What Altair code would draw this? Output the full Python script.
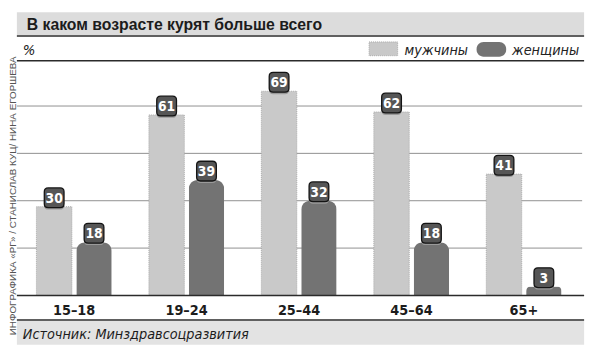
import altair as alt
import pandas as pd

# ---- data ----
categories = ["15–18", "19–24", "25–44", "45–64", "65+"]
series = ["мужчины", "женщины"]
men = [30, 61, 69, 62, 41]
women = [18, 39, 32, 18, 3]
grid_values = [16, 32, 48, 64]

title_text = "В каком возрасте курят больше всего"
unit_text = "%"
source_text = "Источник: Минздравсоцразвития"
credit_text = "ИНФОГРАФИКА «РГ» / СТАНИСЛАВ КУЦ/ НИНА ЕГОРШЕВА"

df = pd.DataFrame({
    "age": categories * 2,
    "sex": [series[0]] * len(categories) + [series[1]] * len(categories),
    "value": men + women,
})
one = pd.DataFrame({"k": [0]})
grid_df = pd.DataFrame({"g": grid_values})

NARROW = "Liberation Sans Narrow, DejaVu Sans Condensed, Liberation Sans, sans-serif"
SANS = "Liberation Sans, Arial, sans-serif"
MEN_C = "#c9c9c9"
WOMEN_C = "#737373"
DARK = "#2b2b2b"

W, H = 570, 238
LEFT, RIGHT = -1, 574

yscale = alt.Scale(domain=[0, 79.33], nice=False, zero=True)
x_enc = alt.X("age:N", sort=categories,
              scale=alt.Scale(paddingInner=0.33, paddingOuter=0.165), axis=None)
xo_enc = alt.XOffset("sex:N", sort=series,
                     scale=alt.Scale(domain=series, paddingInner=0.11, paddingOuter=0))
y_enc = alt.Y("value:Q", scale=yscale, axis=None)

# ---- decorations ----
title_band = alt.Chart(one).mark_rect(color="#dcdcdc").encode(
    x=alt.value(LEFT), x2=alt.value(RIGHT), y=alt.value(-49), y2=alt.value(-26))
title_line = alt.Chart(one).mark_rule(color=DARK, strokeWidth=1.5).encode(
    x=alt.value(LEFT), x2=alt.value(RIGHT), y=alt.value(-25))
head_line = alt.Chart(one).mark_rule(color=DARK, strokeWidth=1.5).encode(
    x=alt.value(LEFT), x2=alt.value(RIGHT), y=alt.value(0))
title = alt.Chart(one).mark_text(
    text=title_text, font=SANS, fontSize=16, fontWeight="bold", color="#1c1c1c",
    align="left", baseline="alphabetic").encode(x=alt.value(9), y=alt.value(-31))
unit = alt.Chart(one).mark_text(
    text=unit_text, font=NARROW, fontSize=15, fontStyle="italic", color="#222",
    align="left", baseline="alphabetic").encode(x=alt.value(5), y=alt.value(-6))

leg_men = alt.Chart(one).mark_rect(color=MEN_C, stroke="#a0a0a0", strokeDash=[1, 1],
                                   strokeWidth=0.8).encode(
    x=alt.value(356), x2=alt.value(385), y=alt.value(-19), y2=alt.value(-5))
leg_women = alt.Chart(one).mark_rect(color=WOMEN_C, cornerRadius=7).encode(
    x=alt.value(465), x2=alt.value(495), y=alt.value(-19), y2=alt.value(-4))
leg_men_t = alt.Chart(one).mark_text(
    text=series[0], font=NARROW, fontSize=14.5, fontStyle="italic", color="#222",
    align="left", baseline="alphabetic").encode(x=alt.value(392), y=alt.value(-6))
leg_women_t = alt.Chart(one).mark_text(
    text=series[1], font=NARROW, fontSize=14.5, fontStyle="italic", color="#222",
    align="left", baseline="alphabetic").encode(x=alt.value(501), y=alt.value(-6))

grid = alt.Chart(grid_df).mark_rule(color="#8f8f8f", strokeWidth=1).encode(
    y=alt.Y("g:Q", scale=yscale, axis=None), x=alt.value(LEFT), x2=alt.value(RIGHT - 2))

base_line = alt.Chart(one).mark_rule(color=DARK, strokeWidth=1.5).encode(
    x=alt.value(LEFT), x2=alt.value(RIGHT), y=alt.value(H))
cat_labels = alt.Chart(pd.DataFrame({"age": categories})).mark_text(
    font=NARROW, fontSize=14.5, fontWeight="bold", color="#1c1c1c",
    baseline="alphabetic").encode(x=x_enc, y=alt.value(258), text="age:N")
src_line = alt.Chart(one).mark_rule(color=DARK, strokeWidth=1.5).encode(
    x=alt.value(LEFT), x2=alt.value(RIGHT), y=alt.value(263))
src_band = alt.Chart(one).mark_rect(color="#e3e3e3").encode(
    x=alt.value(LEFT), x2=alt.value(RIGHT), y=alt.value(264), y2=alt.value(288))
src = alt.Chart(one).mark_text(
    text=source_text, font=NARROW, fontSize=14.5, fontStyle="italic", color="#1c1c1c",
    align="left", baseline="alphabetic").encode(x=alt.value(5), y=alt.value(282))
credit = alt.Chart(one).mark_text(
    text=credit_text, font=SANS, fontSize=10, color="#555", angle=270,
    align="center", baseline="middle").encode(x=alt.value(-4.5), y=alt.value(137))

# ---- bars ----
bars_men = alt.Chart(df).transform_filter(alt.datum.sex == series[0]).mark_bar(
    color=MEN_C, stroke="#a0a0a0", strokeDash=[1, 1], strokeWidth=0.8).encode(
    x=x_enc, xOffset=xo_enc, y=y_enc)
bars_women = alt.Chart(df).transform_filter(alt.datum.sex == series[1]).mark_bar(
    color=WOMEN_C, cornerRadiusTopLeft=9, cornerRadiusTopRight=9).encode(
    x=x_enc, xOffset=xo_enc, y=y_enc)

badge_path = ("M -0.6,-1 L 0.6,-1 Q 1,-1 1,-0.6 L 1,0.6 Q 1,1 0.6,1 "
              "L -0.6,1 Q -1,1 -1,0.6 L -1,-0.6 Q -1,-1 -0.6,-1 Z")
badge_shadow = alt.Chart(df).mark_point(
    shape=badge_path, size=400, filled=True, fill="#9a9a9a", opacity=1,
    xOffset=2, yOffset=-7).encode(x=x_enc, xOffset=xo_enc, y=y_enc)
badge = alt.Chart(df).mark_point(
    shape=badge_path, size=400, filled=True, fill="#565656", stroke="#141414",
    strokeWidth=1.3, opacity=1, yOffset=-9).encode(x=x_enc, xOffset=xo_enc, y=y_enc)
badge_text = alt.Chart(df).mark_text(
    font=NARROW, fontSize=14, fontWeight="bold", color="white",
    baseline="middle", yOffset=-8).encode(x=x_enc, xOffset=xo_enc, y=y_enc,
                                          text="value:Q")

chart = alt.layer(
    title_band, title_line, head_line, title, unit,
    leg_men, leg_women, leg_men_t, leg_women_t,
    grid, bars_men, bars_women, base_line,
    badge_shadow, badge, badge_text,
    cat_labels, src_band, src_line, src, credit,
).properties(
    width=W, height=H,
    padding={"left": 10, "top": 51, "right": 12, "bottom": 57},
    autosize=alt.AutoSizeParams(type="none"),
    background="white",
).configure_view(stroke=None)

chart.save("out.html", embed_options={"renderer": "svg", "actions": False})
